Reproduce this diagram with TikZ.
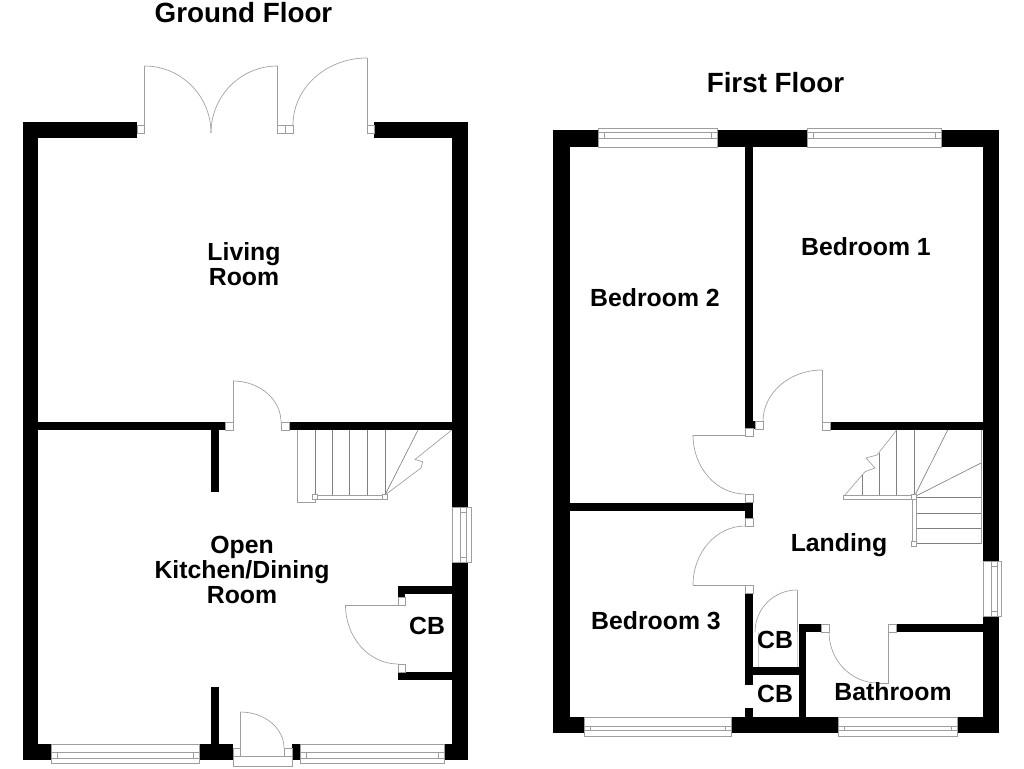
\documentclass[tikz,border=0pt]{standalone}
\usepackage{fontspec}
\setmainfont{Liberation Sans}
\newcommand{\wl}[4]{\fill[wallfill] (#1,#2) rectangle (#3,#4);}
\newcommand{\jmb}[4]{\draw[jambbox] (#1,#2) rectangle (#3,#4);}
\newcommand{\qarc}[6]{\draw[fine] (#1,#2) .. controls ({#1+0.5523*(#3-#5)},{#2+0.5523*(#4-#6)}) and ({#3+0.5523*(#1-#5)},{#4+0.5523*(#2-#6)}) .. (#3,#4);}
% horizontal window: x0 x1 ytop ybottom inner1 inner2
\newcommand{\hwin}[6]{\draw[fine,fill=white] (#1,#3) rectangle (#2,#4);
  \draw[fine] (#1,#5) -- (#2,#5);
  \draw[fine] ({#1+6},#5) rectangle ({#2-6},#6);
  \draw[fine] (#1,#6) -- ({#1+6},#6) ({#2-6},#6) -- (#2,#6);}
% vertical window: x0 x1 ytop ybottom inner1 inner2
\newcommand{\vwin}[6]{\draw[fine,fill=white] (#1,#3) rectangle (#2,#4);
  \draw[fine] (#5,#3) -- (#5,#4);
  \draw[fine] (#5,{#3+5}) rectangle (#6,{#4-5});
  \draw[fine] (#6,#3) -- (#6,{#3+5}) (#6,{#4-5}) -- (#6,#4);}
\tikzset{
  wallfill/.style={fill=black,draw=none},
  fine/.style={draw=black!38,line width=0.65pt},
  tread/.style={draw=black!50,line width=0.65pt},
  jambbox/.style={draw=black!38,line width=0.65pt,fill=white},
  roomlabel/.style={font=\fontsize{24.8}{25}\selectfont\bfseries,align=center,inner sep=0pt,text=black},
  floortitle/.style={font=\fontsize{27.8}{28}\selectfont\bfseries,align=center,inner sep=0pt,text=black}
}
\begin{document}
\begin{tikzpicture}[x=1pt,y=-1pt]
\useasboundingbox[fill=white] (0,0) rectangle (1024,768);
%% ---------- GROUND FLOOR ----------
\wl{23}{122}{137}{138}\wl{374}{122}{468}{138}
\wl{23}{122}{38}{760}
\wl{23}{744}{51}{760}\wl{199}{744}{233}{760}\wl{211}{687}{219}{744}
\wl{292}{744}{300}{760}\wl{444}{744}{468}{760}
\wl{452}{122}{468}{507}\wl{452}{562}{468}{760}
\wl{38}{422}{225}{430}\wl{289}{422}{452}{430}\wl{211}{430}{219}{492}
\wl{398}{586}{452}{594}\wl{398}{586}{405}{597}\wl{398}{672}{452}{680}
% french doors
\jmb{137}{125}{144.5}{133}
\draw[fine] (144.5,133) -- (144.5,66);
\qarc{144.5}{66}{211}{133}{144.5}{133}
\qarc{277.5}{66}{211}{133}{277.5}{133}
\draw[fine] (277.5,133) -- (277.5,66);
\jmb{277.5}{125}{285}{133}\jmb{285}{125}{293}{133}
\qarc{367}{58}{293}{125}{367}{125}
\draw[fine] (367,133) -- (367,58);
\jmb{367}{125}{374}{133}
% living room door
\jmb{225}{422}{233}{430}\jmb{281}{422}{289}{430}
\draw[fine] (233,422) -- (233,381);
\qarc{233}{381}{281}{422}{233}{422}
% ground stairs
\draw[fine] (297,430) -- (297,502) -- (315,502) -- (315,430);
\foreach \tx in {332.5,349.5,367.5,385}{\draw[tread] (\tx,430) -- (\tx,495);}
\draw[tread] (315,430) -- (315,495);
\draw[fine] (315,495) rectangle (385,499);
\jmb{312.5}{494.5}{317.5}{499.5}\jmb{382.5}{494.5}{387.5}{499.5}
\draw[tread] (385,495) -- (418,430);
\draw[fine] (385,495) -- (421,468) -- (422.7,461.7) -- (415,459.5) -- (451.7,430);
% side window
\vwin{452}{471}{507}{562}{460}{466.5}
% CB door
\jmb{398}{597}{405}{605}\jmb{398}{664}{405}{672}
\draw[fine] (405,605) -- (345.5,605);
\qarc{345.5}{605}{398}{664}{398}{605}
% front door
\draw[fine] (233,756) rectangle (292,766);
\jmb{233}{748}{240.5}{756}\jmb{284}{748}{292}{756}
\draw[fine] (240.5,756) -- (240.5,712);
\qarc{240.5}{712}{284}{748}{240.5}{748}
% front windows
\hwin{51}{199}{744}{763}{752}{758}
\hwin{300}{444}{744}{763}{752}{758}
%% ---------- FIRST FLOOR ----------
\wl{553}{130}{598}{147}\wl{717}{130}{807}{147}\wl{941}{130}{999}{147}
\wl{553}{130}{570}{733}
\wl{553}{717}{584}{733}\wl{731}{717}{838}{733}\wl{957}{717}{999}{733}
\wl{983}{130}{999}{561}\wl{983}{616}{999}{733}
\wl{745}{147}{753}{428}\wl{753}{421}{756}{429}
\wl{830}{422}{983}{430}
\wl{570}{503}{753}{511}\wl{745}{503}{753}{518}
\wl{745}{593}{753}{685}\wl{745}{708}{753}{717}
\wl{753}{667}{799}{675}\wl{799}{624}{806}{718}\wl{799}{624}{821}{632}
\wl{896}{624}{983}{632}
% windows
\hwin{598}{717}{128}{147}{132}{138}
\hwin{807}{941}{128}{147}{132}{138}
\hwin{584}{731}{717}{736}{726}{730}
\hwin{838}{957}{717}{736}{726}{730}
\vwin{983}{1001}{561}{616}{991}{997}
% doors
\jmb{755}{421.5}{763}{429}\jmb{822}{422}{830}{430}
\draw[fine] (822,422) -- (822,370);
\qarc{822}{370}{763}{421.5}{822}{421.5}
\jmb{745}{428}{753}{436}
\draw[fine] (745,435) -- (693,435);
\qarc{693}{435}{745}{494}{745}{435}
\jmb{745}{494}{753}{502.5}
\jmb{745}{518}{753}{526}
\draw[fine] (745,585) -- (693,585);
\qarc{693}{585}{745}{526}{745}{585}
\jmb{745}{585}{753}{593}
% CB door
\draw[fine] (797,632) -- (797,590);
\qarc{797}{590}{755}{632}{797}{632}
\draw[draw=black!20,line width=0.5pt] (758,632) -- (758,667) (797,632) -- (797,667);
% bathroom door
\jmb{821}{624}{829}{632}\jmb{888}{624}{896}{632}
\draw[fine] (888,632) -- (888,683) -- (878,683);
\qarc{829}{632}{878}{683}{878}{632}
% first floor stairs
\foreach \ty in {513,528,543.5}{\draw[tread] (916,\ty) -- (981,\ty);}
\draw[tread] (916,497) -- (981,497);
\draw[fine] (981,430) -- (981,544);
\draw[fine] (912,497) rectangle (916,544);
\draw[fine] (843.5,495) rectangle (914,499);
\draw[tread] (862,475) -- (862,495) (879,453) -- (879,495) (896.7,430) -- (896.7,495) (914,430) -- (914,495);
\draw[tread] (914,497) -- (947.7,430) (914,497) -- (981,463);
\draw[fine] (845,495) -- (865,471.7) -- (875,468) -- (866,458) -- (877,455) -- (896.7,430);
\jmb{911.5}{494.5}{916.5}{499.5}\jmb{911.5}{541.5}{916.5}{546.5}
%% ---------- LABELS ----------
\node[floortitle] (tground) at (243.5,13) {Ground Floor};
\node[floortitle] (tfirst) at (775.5,83) {First Floor};
\node[roomlabel] (living) at (244,264) {Living\\Room};
\node[roomlabel] (kitchen) at (242,570) {Open\\Kitchen/Dining\\Room};
\node[roomlabel] (cba) at (427,626) {CB};
\node[roomlabel] (bedtwo) at (655,298) {Bedroom 2};
\node[roomlabel] (bedone) at (866,247) {Bedroom 1};
\node[roomlabel] (landing) at (839,545.5) {Landing};
\node[roomlabel] (bedthree) at (656,621) {Bedroom 3};
\node[roomlabel] (cbb) at (775,640) {CB};
\node[roomlabel] (cbc) at (775,694) {CB};
\node[roomlabel] (bath) at (893,692) {Bathroom};
\end{tikzpicture}
\end{document}
